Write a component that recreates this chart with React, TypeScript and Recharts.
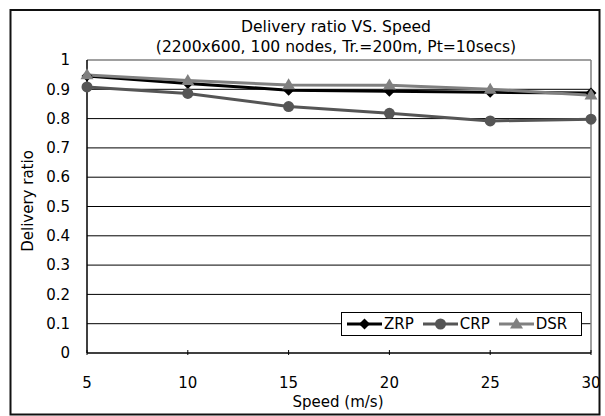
import React from "react";
import { LineChart, Line, XAxis, YAxis, CartesianGrid, ReferenceLine } from "recharts";

const speeds = [5, 10, 15, 20, 25, 30];
const zrpValues = [0.945, 0.92, 0.897, 0.893, 0.89, 0.887];
const crpValues = [0.908, 0.886, 0.841, 0.818, 0.792, 0.798];
const dsrValues = [0.949, 0.93, 0.915, 0.914, 0.9, 0.88];
const xTicks = [5, 10, 15, 20, 25, 30];
const yTicks = [0, 0.1, 0.2, 0.3, 0.4, 0.5, 0.6, 0.7, 0.8, 0.9, 1];
const gridValues = [0.1, 0.2, 0.3, 0.4, 0.5, 0.6, 0.7, 0.8, 0.9];

const data = speeds.map((s, i) => ({
  speed: s,
  ZRP: zrpValues[i],
  CRP: crpValues[i],
  DSR: dsrValues[i],
}));

const FONT = "Tahoma, 'DejaVu Sans', Verdana, sans-serif";

type Shape = "diamond" | "circle" | "triangle";
const series: { key: string; color: string; shape: Shape }[] = [
  { key: "ZRP", color: "#000000", shape: "diamond" },
  { key: "CRP", color: "#555555", shape: "circle" },
  { key: "DSR", color: "#808080", shape: "triangle" },
];

function marker(shape: Shape, cx: number, cy: number, color: string, key?: any) {
  if (shape === "diamond") {
    const r = 5.5;
    return <path key={key} d={`M${cx},${cy - r}L${cx + r},${cy}L${cx},${cy + r}L${cx - r},${cy}Z`} fill={color} />;
  }
  if (shape === "circle") {
    return <circle key={key} cx={cx} cy={cy} r={5.5} fill={color} />;
  }
  const h = 11;
  const w = 13;
  return (
    <path
      key={key}
      d={`M${cx},${cy - h * 0.6}L${cx + w / 2},${cy + h * 0.4}L${cx - w / 2},${cy + h * 0.4}Z`}
      fill={color}
    />
  );
}

const XTick = (props: any) => {
  const { x, y, payload } = props;
  return (
    <g>
      <line x1={x} x2={x} y1={y} y2={y - 5} stroke="#000" strokeWidth={1} />
      <text x={x} y={y + 28} dy="0.35em" textAnchor="middle" fontSize={15} fontFamily={FONT} fill="#000">
        {payload.value}
      </text>
    </g>
  );
};

const YTick = (props: any) => {
  const { x, y, payload } = props;
  return (
    <text x={x - 15} y={y} dy="0.35em" textAnchor="end" fontSize={15} fontFamily={FONT} fill="#000">
      {payload.value}
    </text>
  );
};

export default function App() {
  return (
    <div style={{ position: "absolute", left: 0, top: 0, width: 605, height: 416, fontFamily: FONT, overflow: "hidden" }}>
      <div
        style={{
          position: "absolute",
          left: 0,
          width: 672,
          top: 17,
          textAlign: "center",
          fontSize: 15.6,
          lineHeight: "20px",
          color: "#000",
          whiteSpace: "nowrap",
        }}
      >
        Delivery ratio VS. Speed
        <br />
        (2200x600, 100 nodes, Tr.=200m, Pt=10secs)
      </div>
      <div
        style={{
          position: "absolute",
          left: 28,
          top: 201,
          transform: "translate(-50%, -50%) rotate(-90deg)",
          fontSize: 15,
          whiteSpace: "nowrap",
          color: "#000",
        }}
      >
        Delivery ratio
      </div>
      <div
        style={{
          position: "absolute",
          left: 338,
          top: 402,
          transform: "translate(-50%, -50%)",
          fontSize: 15,
          whiteSpace: "nowrap",
          color: "#000",
        }}
      >
        Speed (m/s)
      </div>
      <div style={{ position: "absolute", left: 0, top: 0 }}>
        <LineChart width={605} height={416} data={data} margin={{ top: 60, right: 14, bottom: 33, left: 27 }}>
          <CartesianGrid vertical={false} horizontalValues={gridValues} stroke="#000" strokeWidth={1} />
          <ReferenceLine y={1} stroke="#808080" strokeWidth={1.5} />
          <ReferenceLine x={30} stroke="#808080" strokeWidth={1.5} />
          <XAxis
            dataKey="speed"
            type="number"
            domain={[5, 30]}
            ticks={xTicks}
            height={30}
            tickSize={0}
            tickLine={false}
            axisLine={{ stroke: "#000", strokeWidth: 1.5 }}
            tick={<XTick />}
            interval={0}
          />
          <YAxis
            type="number"
            domain={[0, 1]}
            ticks={yTicks}
            width={60}
            tickSize={0}
            tickLine={false}
            axisLine={{ stroke: "#000", strokeWidth: 1.5 }}
            tick={<YTick />}
            interval={0}
          />
          {series.map((s) => (
            <Line
              key={s.key}
              dataKey={s.key}
              stroke={s.color}
              strokeWidth={3}
              isAnimationActive={false}
              dot={(p: any) => marker(s.shape, p.cx, p.cy, s.color, `${s.key}-${p.index}`)}
              activeDot={false}
            />
          ))}
        </LineChart>
      </div>
      <div
        style={{
          position: "absolute",
          left: 341,
          top: 312,
          width: 239,
          height: 22,
          border: "1px solid #000",
          background: "#fff",
          display: "flex",
          alignItems: "center",
          fontSize: 15,
          color: "#000",
        }}
      >
        {series.map((s) => (
          <div key={s.key} style={{ display: "flex", alignItems: "center", marginLeft: s.key === "ZRP" ? 5 : 9 }}>
            <svg width={35} height={14} style={{ display: "block" }}>
              <line x1={0} x2={35} y1={7} y2={7} stroke={s.color} strokeWidth={3} />
              {marker(s.shape, 17.5, 7, s.color)}
            </svg>
            <span style={{ marginLeft: 2 }}>{s.key}</span>
          </div>
        ))}
      </div>
      <svg
        width={605}
        height={416}
        style={{ position: "absolute", left: 0, top: 0, pointerEvents: "none" }}
      >
        <rect x={10.5} y={10} width={589} height={404.5} fill="none" stroke="#111" strokeWidth={2} />
      </svg>
    </div>
  );
}
